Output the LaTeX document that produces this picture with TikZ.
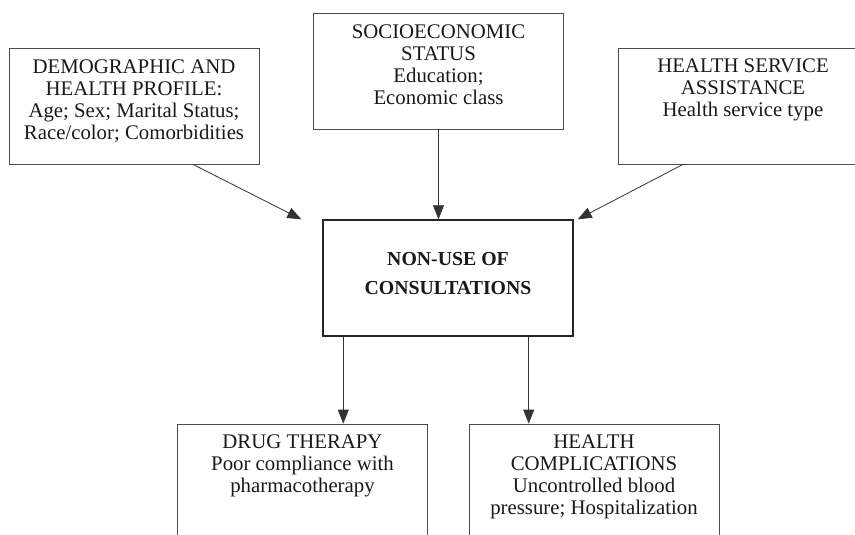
\documentclass[tikz,border=0pt]{standalone}
\usepackage{fontspec}
\setmainfont{Liberation Serif}
\usetikzlibrary{positioning,arrows.meta}

\begin{document}
\begin{tikzpicture}[x=1pt, y=-1pt,
        box/.style={rectangle, draw=black!70, line width=0.8pt, minimum width=250pt, minimum height=116pt, inner sep=0pt},
        mainbox/.style={box, draw=black!85, line width=1.4pt},
        txt/.style={font=\fontsize{20.8}{22}\selectfont, align=center, inner sep=0pt, text=black!90},
        maintxt/.style={font=\fontsize{19.8}{29}\selectfont\bfseries, align=center, inner sep=0pt, text=black!90},
        arrow/.style={-{Triangle[length=14pt, width=11pt]}, line width=0.8pt, draw=black!80},
      ]
      \useasboundingbox (0,0) rectangle (855,535);
      \clip (0,0) rectangle (855,535);
      % Factors
      \node [box] (demo) at (134,106) {};
      \node [box] (socio) at (438.5,71) {};
      \node [box] (serv) at (743,106) {};
      \node [txt, below=12pt of demo.north] (demotxt) {DEMOGRAPHIC AND\\HEALTH PROFILE:\\Age; Sex; Marital Status;\\Race/color; Comorbidities};
      \node [txt, below=12pt of socio.north] (sociotxt) {SOCIOECONOMIC\\STATUS\\Education;\\Economic class};
      \node [txt, below=11pt of serv.north] (servtxt) {HEALTH SERVICE\\ASSISTANCE\\Health service type};
      % Non-use
      \node [mainbox] (cons) at (448,278) {};
      \node [maintxt] (constxt) at ([yshift=4pt]cons.center) {NON-USE OF\\CONSULTATIONS};
      % Outcomes
      \node [box] (drug) at (302.5,482) {};
      \node [box] (health) at (594,482) {};
      \node [txt, below=11pt of drug.north] (drugtxt) {DRUG THERAPY\\Poor compliance with\\pharmacotherapy};
      \node [txt, below=11pt of health.north] (healthtxt) {HEALTH\\COMPLICATIONS\\Uncontrolled blood\\pressure; Hospitalization};
      \draw [arrow] ([xshift=59pt]demo.south) -- ([xshift=-21pt]cons.north west);
      \draw [arrow] (socio.south) -- (socio.south |- cons.north);
      \draw [arrow] ([xshift=-60pt]serv.south) -- ([xshift=4pt]cons.north east);
      \draw [arrow] ([xshift=21pt]cons.south west) -- ([xshift=21pt]cons.south west |- drug.north);
      \draw [arrow] ([xshift=-45pt]cons.south east) -- ([xshift=-45pt]cons.south east |- health.north);
    \end{tikzpicture}
\end{document}
